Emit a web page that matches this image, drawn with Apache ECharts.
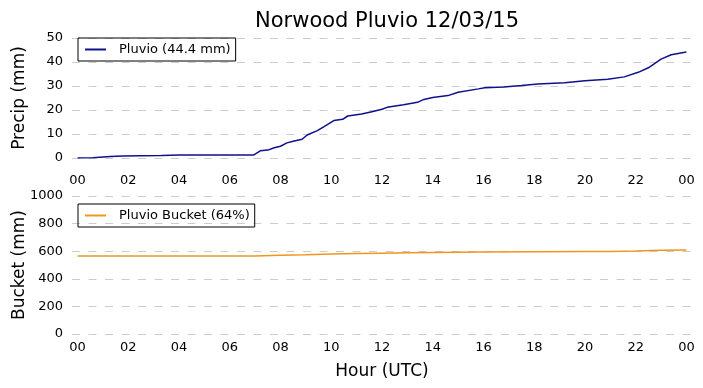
<!DOCTYPE html>
<html><head><meta charset="utf-8">
<script src="https://cdn.jsdelivr.net/npm/echarts@6/dist/echarts.min.js"></script>
<style>html,body{margin:0;padding:0;background:#fff}#c{width:703px;height:388px}</style>
</head><body><div id="c"></div>
<script>
const hoursPrecip = [0,0.6,1.0,1.3,1.8,2.5,3.3,4.0,4.6,5.5,6.95,7.2,7.5,7.75,8.0,8.25,8.5,8.85,9.05,9.45,9.7,10.1,10.45,10.65,11.2,11.6,12.0,12.2,12.85,13.4,13.65,14.0,14.6,15.0,15.8,16.05,16.8,17.5,18.15,19.2,20.0,20.9,21.55,22.1,22.5,23.0,23.4,24.0];
const precip = [0.0,0.1,0.4,0.6,0.8,0.9,1.0,1.2,1.3,1.3,1.3,3.0,3.3,4.3,4.9,6.3,7.0,7.8,9.6,11.4,13.0,15.6,16.1,17.5,18.3,19.3,20.3,21.1,22.2,23.2,24.4,25.2,26.0,27.4,28.8,29.3,29.6,30.2,30.8,31.4,32.2,32.8,33.8,35.7,37.6,41.2,43.0,44.2];
const hoursBucket = [0,7,8,9,10,11,12,13,14,15,16,18,20,21,22,23,24];
const bucket = [565,566,570,574,580,584,586,588,590,592,594,596,597,598,601,606,609];
const xTicks = [0,2,4,6,8,10,12,14,16,18,20,22,24];
const xTickLabels = ['00','02','04','06','08','10','12','14','16','18','20','22','00'];
const precipTicks = [0,10,20,30,40,50];
const bucketTicks = [0,200,400,600,800,1000];

const FONT = 'DejaVu Sans';
const chart = echarts.init(document.getElementById('c'));
const pairs = (xs, ys) => xs.map((x, i) => [x, ys[i]]);
const xLab = v => { const i = xTicks.indexOf(v); return i >= 0 ? xTickLabels[i] : ''; };
const grid = [
  {left: 72, right: 11, top: 38, height: 120, outerBoundsMode: 'none', containLabel: false},
  {left: 72, right: 11, top: 196, height: 138, outerBoundsMode: 'none', containLabel: false}
];
const mkX = (idx, margin, name) => ({
  type: 'value', gridIndex: idx, min: -0.22, max: 24.22,
  axisLine: {show: false}, axisTick: {show: false}, splitLine: {show: false},
  axisLabel: {customValues: xTicks, formatter: xLab, margin: margin, color: '#000', fontFamily: FONT, fontSize: 13},
  name: name, nameLocation: 'middle', nameGap: 29, nameMoveOverlap: false,
  nameTextStyle: {fontFamily: FONT, fontSize: 17, color: '#000'}
});
const mkY = (idx, ticks, name) => ({
  type: 'value', gridIndex: idx, min: ticks[0], max: ticks[ticks.length - 1],
  interval: ticks[1] - ticks[0],
  axisLine: {show: false}, axisTick: {show: false},
  splitLine: {show: true, lineStyle: {color: '#cccccc', width: 1, type: [8, 8.5]}},
  axisLabel: {margin: 9, color: '#000', fontFamily: FONT, fontSize: 13, formatter: v => String(v)},
  name: name, nameLocation: 'middle', nameGap: 44, nameRotate: 90, nameMoveOverlap: false,
  nameTextStyle: {fontFamily: FONT, fontSize: 17, color: '#000'}
});
const legendBase = {
  orient: 'vertical', borderColor: '#000', borderWidth: 1, borderRadius: 0,
  padding: [5, 5, 5, 7], itemWidth: 21, itemHeight: 2, icon: 'rect', itemGap: 0,
  textStyle: {fontFamily: FONT, fontSize: 13, color: '#000', padding: [0, 0, 0, 8]}
};
chart.setOption({
  animation: false,
  backgroundColor: '#fff',
  title: {text: 'Norwood Pluvio 12/03/15', left: 382, textAlign: 'center', top: 6,
    textStyle: {fontFamily: FONT, fontSize: 21, fontWeight: 'normal', color: '#000'}},
  grid: grid,
  xAxis: [mkX(0, 16, ''), mkX(1, 7, 'Hour (UTC)')],
  yAxis: [mkY(0, precipTicks, 'Precip (mm)'), mkY(1, bucketTicks, 'Bucket (mm)')],
  legend: [
    Object.assign({}, legendBase, {data: ['Pluvio (44.4 mm)'], left: 78, top: 38}),
    Object.assign({}, legendBase, {data: ['Pluvio Bucket (64%)'], left: 78, top: 204})
  ],
  series: [
    {name: 'Pluvio (44.4 mm)', type: 'line', xAxisIndex: 0, yAxisIndex: 0,
      data: pairs(hoursPrecip, precip), showSymbol: false, symbol: 'none',
      lineStyle: {color: '#10108a', width: 1.5}, itemStyle: {color: '#10108a'}},
    {name: 'Pluvio Bucket (64%)', type: 'line', xAxisIndex: 1, yAxisIndex: 1,
      data: pairs(hoursBucket, bucket), showSymbol: false, symbol: 'none',
      lineStyle: {color: '#f0961e', width: 1.5}, itemStyle: {color: '#f0961e'}}
  ]
});
</script></body></html>
